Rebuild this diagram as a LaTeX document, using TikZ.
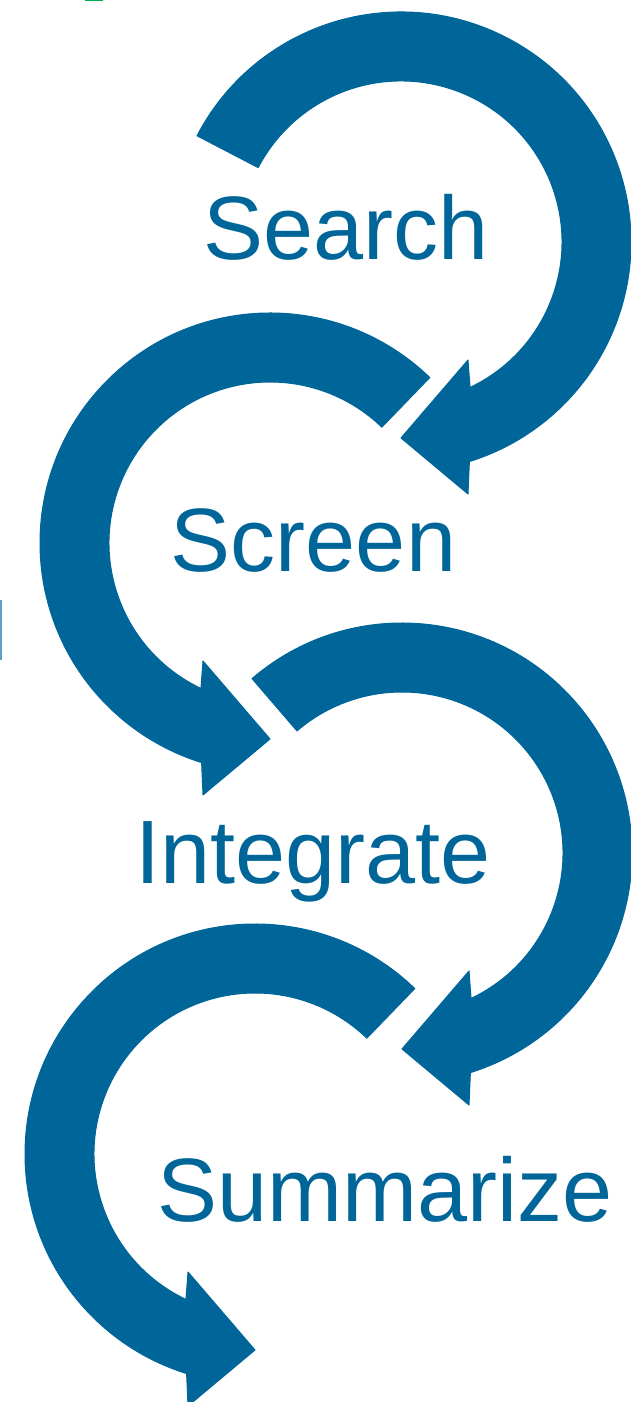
\documentclass[tikz,border=0pt]{standalone}
\usepackage{fontspec}
\setmainfont{Liberation Sans}
\usetikzlibrary{calc}
\definecolor{arrowblue}{RGB}{0,102,153}
\definecolor{cropgreen}{RGB}{0,176,80}
\definecolor{croplblue}{RGB}{90,160,200}
\begin{document}
\begin{tikzpicture}[x=1pt,y=1pt,
  arrowshape/.style={fill=arrowblue, draw=arrowblue, line width=1pt, line join=round},
  steplabel/.style={text=arrowblue, font=\fontsize{90}{90}\selectfont, anchor=base, inner sep=0pt}]
\useasboundingbox (0,0) rectangle (631,1402);
% crop remnants at the edges
\fill[cropgreen] (85,1401) rectangle (103,1402.5);
\fill[croplblue] (0,742) rectangle (2,802);
% centres of the four circular arrows
\coordinate (c1) at (401,1160);
\coordinate (c2) at (270,859);
\coordinate (c3) at (402,549);
\coordinate (c4) at (255,248);
% arrow 1 (clockwise)
\path[arrowshape] ($(c1)+(152.5:230)$) arc[start angle=152.5, end angle=-72.7, radius=230pt]
  -- ($(c1)+(67,-252)$) -- ($(c1)+(0,-196)$) -- ($(c1)+(67,-118)$)
  -- ($(c1)+(-64.6:161)$) arc[start angle=-64.6, end angle=152.5, radius=161pt] -- cycle;
% arrow 2 (counter-clockwise)
\path[arrowshape] ($(c2)+(46:230)$) arc[start angle=46, end angle=252.7, radius=230pt]
  -- ($(c2)+(-67,-252)$) -- ($(c2)+(0,-196)$) -- ($(c2)+(-67,-118)$)
  -- ($(c2)+(244.6:161)$) arc[start angle=244.6, end angle=46, radius=161pt] -- cycle;
% arrow 3 (clockwise)
\path[arrowshape] ($(c3)+(130.7:230)$) arc[start angle=130.7, end angle=-72.7, radius=230pt]
  -- ($(c3)+(67,-252)$) -- ($(c3)+(0,-196)$) -- ($(c3)+(67,-118)$)
  -- ($(c3)+(-64.6:161)$) arc[start angle=-64.6, end angle=130.7, radius=161pt] -- cycle;
% arrow 4 (counter-clockwise)
\path[arrowshape] ($(c4)+(46:230)$) arc[start angle=46, end angle=252.7, radius=230pt]
  -- ($(c4)+(-67,-252)$) -- ($(c4)+(0,-196)$) -- ($(c4)+(-67,-118)$)
  -- ($(c4)+(244.6:161)$) arc[start angle=244.6, end angle=46, radius=161pt] -- cycle;
% labels
\node[steplabel] (search) at (346,1142) {Search};
\node[steplabel] (screen) at (313.5,830) {Screen};
\node[steplabel] (integrate) at (313,518) {Integrate};
\node[steplabel] (summarize) at (385,180) {Summarize};
\end{tikzpicture}
\end{document}
